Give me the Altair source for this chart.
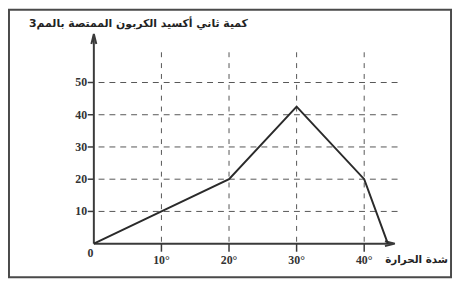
import altair as alt
import pandas as pd

# ---- data ----
temp = [0, 10, 20, 30, 40, 43.5]
co2 = [0, 10, 20, 42.5, 20, 0]
x_ticks = [10, 20, 30, 40]
x_tick_labels = ["10°", "20°", "30°", "40°"]
y_ticks = [10, 20, 30, 40, 50]
y_tick_labels = ["10", "20", "30", "40", "50"]
y_title = "كمية ثاني أكسيد الكربون الممتصة بالمم3"
x_title = "شدة الحرارة"

xscale = alt.Scale(domain=[0, 45], range=[86, 394.25], nice=False, zero=False)
yscale = alt.Scale(domain=[0, 60], range=[237, 41], nice=False, zero=False)


def X(f="x"):
    return alt.X(f"{f}:Q", scale=xscale, axis=None)


def Y(f="y"):
    return alt.Y(f"{f}:Q", scale=yscale, axis=None)


INK = "#3a3a3a"

frame = alt.Chart(pd.DataFrame({"k": [0]})).mark_rect(
    fill="white", stroke="#4a4a4a", strokeWidth=2
).encode(x=alt.value(0), x2=alt.value(448), y=alt.value(0), y2=alt.value(271))

hgrid_df = pd.DataFrame({"y": y_ticks, "x": [0.7] * len(y_ticks), "x2": [45.3] * len(y_ticks)})
vgrid_df = pd.DataFrame({"x": x_ticks, "y": [0.6] * len(x_ticks), "y2": [60.5] * len(x_ticks)})

hgrid = alt.Chart(hgrid_df).mark_rule(strokeDash=[6, 5], color="#555", strokeWidth=1).encode(
    x=X(), x2="x2:Q", y=Y())
vgrid = alt.Chart(vgrid_df).mark_rule(strokeDash=[5, 6], color="#555", strokeWidth=1).encode(
    x=X(), y=Y(), y2="y2:Q")

yaxis = alt.Chart(pd.DataFrame({"x": [0], "y": [0], "y2": [64.5]})).mark_rule(
    color=INK, strokeWidth=2).encode(x=X(), y=Y(), y2="y2:Q")
xaxis = alt.Chart(pd.DataFrame({"x": [0], "x2": [44.3], "y": [0]})).mark_rule(
    color=INK, strokeWidth=2).encode(x=X(), x2="x2:Q", y=Y())

ytick_df = pd.DataFrame({"y": y_ticks, "x": [-0.9] * len(y_ticks), "x2": [0] * len(y_ticks)})
xtick_df = pd.DataFrame({"x": x_ticks, "y": [0] * len(x_ticks), "y2": [-2.5] * len(x_ticks)})
yticks = alt.Chart(ytick_df).mark_rule(color=INK, strokeWidth=1.5).encode(x=X(), x2="x2:Q", y=Y())
xticks = alt.Chart(xtick_df).mark_rule(color=INK, strokeWidth=1.5).encode(x=X(), y=Y(), y2="y2:Q")

arrow_up = alt.Chart(pd.DataFrame({"x": [0], "y": [63.5]})).mark_point(
    shape="M-0.5,1L0,-1L0.5,1", size=100, filled=False, stroke=INK, strokeWidth=2, opacity=1
).encode(x=X(), y=Y())
arrow_right = alt.Chart(pd.DataFrame({"x": [43.8], "y": [0]})).mark_point(
    shape="M-1,-0.5L1,0L-1,0.5", size=100, filled=False, stroke=INK, strokeWidth=2, opacity=1
).encode(x=X(), y=Y())

line = alt.Chart(pd.DataFrame({"x": temp, "y": co2})).mark_line(
    color="#2a2a2a", strokeWidth=2).encode(x=X(), y=Y())

lab_style = dict(font="Liberation Serif", fontWeight="bold", fontSize=12, color="#333")
ylab = alt.Chart(pd.DataFrame({"x": [-1.0] * len(y_ticks), "y": y_ticks, "t": y_tick_labels})).mark_text(
    align="right", baseline="middle", **lab_style
).encode(x=X(), y=Y(), text="t:N")
xlab = alt.Chart(pd.DataFrame({"x": x_ticks, "y": [-5.2] * len(x_ticks), "t": x_tick_labels})).mark_text(
    align="center", baseline="middle", **lab_style
).encode(x=X(), y=Y(), text="t:N")
zero_lab = alt.Chart(pd.DataFrame({"x": [-0.5], "y": [-2.9], "t": ["0"]})).mark_text(
    align="center", baseline="middle", **lab_style
).encode(x=X(), y=Y(), text="t:N")

ytitle = alt.Chart(pd.DataFrame({"x": [6.6], "y": [68.2], "t": [y_title]})).mark_text(
    align="center", baseline="middle", font="DejaVu Sans", fontWeight="bold", fontSize=11, color="#222"
).encode(x=X(), y=Y(), text="t:N")
xtitle = alt.Chart(pd.DataFrame({"x": [52.4], "y": [-5.2], "t": [x_title]})).mark_text(
    align="right", baseline="middle", font="DejaVu Sans", fontWeight="bold", fontSize=10.5, color="#222"
).encode(x=X(), y=Y(), text="t:N")

chart = alt.layer(
    frame, hgrid, vgrid, yaxis, xaxis, yticks, xticks, arrow_up, arrow_right, line,
    ylab, xlab, zero_lab, ytitle, xtitle
).properties(
    width=448, height=271,
    autosize=alt.AutoSizeParams(type="none"),
    padding={"left": 1, "top": 0, "right": 2, "bottom": 2},
    background="white",
).configure_view(stroke=None)

chart.save("out.html", embed_options={"renderer": "svg", "actions": False})
